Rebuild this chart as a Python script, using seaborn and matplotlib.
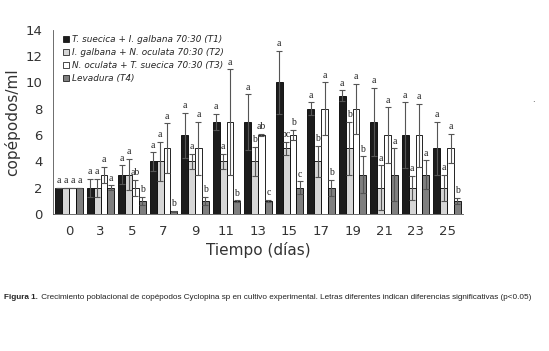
import numpy as np
import pandas as pd
import matplotlib
matplotlib.use('Agg')
import matplotlib.pyplot as plt
import matplotlib.patches as mpatches
import seaborn as sns

# data
dias = ['0', '3', '5', '7', '9', '11', '13', '15', '17', '19', '21', '23', '25']
tratamientos = ['T1', 'T2', 'T3', 'T4']
etiquetas = ['T. suecica + I. galbana 70:30 (T1)',
             'I. galbana + N. oculata 70:30 (T2)',
             'N. oculata + T. suecica 70:30 (T3)',
             'Levadura (T4)']

t1 = [2, 2, 3, 4, 6, 7, 7, 10, 8, 9, 7, 6, 5]
t2 = [2, 2, 3, 4, 4, 4, 4, 5, 4, 5, 2, 2, 2]
t3 = [2, 3, 2, 5, 5, 7, 6, 6, 8, 8, 6, 6, 5]
t4 = [2, 2, 1, 0.2, 1, 1, 1, 2, 2, 3, 3, 3, 1]

e1 = [0, 0.7, 0.7, 0.7, 1.7, 0.6, 2.1, 2.4, 0.5, 0.4, 2.6, 2.5, 2.0]
e2 = [0, 0.7, 1.2, 1.5, 0.6, 0.6, 1.1, 0.5, 1.2, 2.0, 1.7, 0.9, 1.0]
e3 = [0, 0.6, 0.6, 1.9, 2.0, 4.0, 0.1, 0.4, 2.0, 1.9, 2.1, 2.4, 1.1]
e4 = [0, 0.2, 0.3, 0.05, 0.3, 0.05, 0.1, 0.5, 0.6, 1.4, 2.0, 1.1, 0.25]

l1 = ['a'] * 13
l2 = ['a', 'a', 'a', 'a', 'a', 'a', 'b', 'bc', 'b', 'b', 'a', 'a', 'a']
l3 = ['a', 'a', 'ab', 'a', 'a', 'a', 'ab', 'b', 'a', 'a', 'a', 'a', 'a']
l4 = ['a', 'a', 'b', 'b', 'b', 'b', 'c', 'c', 'b', 'b', 'a', 'a', 'b']

valores = [t1, t2, t3, t4]
errores = [e1, e2, e3, e4]
letras = [l1, l2, l3, l4]
colores = ['#1c1c1c', '#d6d6d6', '#ffffff', '#7f7f7f']

df = pd.DataFrame({
    'dia': dias * 4,
    'trat': np.repeat(tratamientos, len(dias)),
    'valor': t1 + t2 + t3 + t4,
})

sns.set_style('white')
plt.rcParams['font.family'] = ['DejaVu Sans']

fig = plt.figure(figsize=(5.49, 3.51), dpi=100)
ax = fig.add_axes([0.097, 0.39, 0.746, 0.525])

sns.barplot(data=df, x='dia', y='valor', hue='trat', order=dias, hue_order=tratamientos,
            palette=colores, errorbar=None, width=0.88, edgecolor='black',
            linewidth=0.6, ax=ax, legend=False)

for cont, err, lab in zip(ax.containers, errores, letras):
    xs = [p.get_x() + p.get_width() / 2 for p in cont]
    hs = [p.get_height() for p in cont]
    ax.errorbar(xs, hs, yerr=err, fmt='none', ecolor='#555555', elinewidth=0.8,
                capsize=2, capthick=0.8, zorder=3)
    for x, h, e, t in zip(xs, hs, err, lab):
        ax.text(x, h + e + 0.2, t, ha='center', va='bottom', fontsize=7,
                family='Liberation Serif', color='#222222')

ax.set_ylim(0, 14)
ax.set_yticks(range(0, 15, 2))
ax.set_xlim(-0.5, len(dias) - 0.5)
ax.set_xticks(range(len(dias)))
ax.set_xticklabels(dias)
ax.set_xticks(np.arange(0.5, len(dias) - 0.5, 1), minor=True)
ax.tick_params(axis='x', which='major', length=0, labelsize=9.5, pad=8, colors='#333333')
ax.tick_params(axis='x', which='minor', length=3, width=0.6, direction='out', color='#555555')
ax.tick_params(axis='y', length=4, width=0.6, direction='out', labelsize=9.5, colors='#333333')
ax.yaxis.set_tick_params(color='#555555')
for s in ['top', 'right']:
    ax.spines[s].set_visible(False)
for s in ['left', 'bottom']:
    ax.spines[s].set_linewidth(0.6)
    ax.spines[s].set_color('#555555')

ax.set_xlabel('Tiempo (días)', fontsize=11, color='#333333', labelpad=3)
ax.set_ylabel('copépodos/ml', fontsize=11, color='#333333', labelpad=4)

handles = [mpatches.Patch(facecolor=c, edgecolor='black', linewidth=0.5) for c in colores]
leg = ax.legend(handles, etiquetas, loc='upper left', bbox_to_anchor=(0.01, 1.0),
                frameon=False, prop={'style': 'italic', 'size': 6.4}, handlelength=0.7,
                handleheight=0.7, handletextpad=0.3, labelspacing=0.45, borderaxespad=0.2)

fig.text(533 / 549, 1 - 100 / 351, '.', fontsize=6, ha='center', va='center')

fig.canvas.draw()
r = fig.canvas.get_renderer()
t0 = fig.text(0.008, 0.148, 'Figura 1.', fontsize=5.9, fontweight='bold',
              family='Liberation Sans', va='baseline')
bb = t0.get_window_extent(r)
fig.text(bb.x1 / fig.bbox.width + 0.001, 0.148,
         ' Crecimiento poblacional de copépodos Cyclopina sp en cultivo experimental. '
         'Letras diferentes indican diferencias significativas (p<0.05)',
         fontsize=5.9, family='Liberation Sans', va='baseline', color='#222222')

fig.savefig('out.png', dpi=100)
